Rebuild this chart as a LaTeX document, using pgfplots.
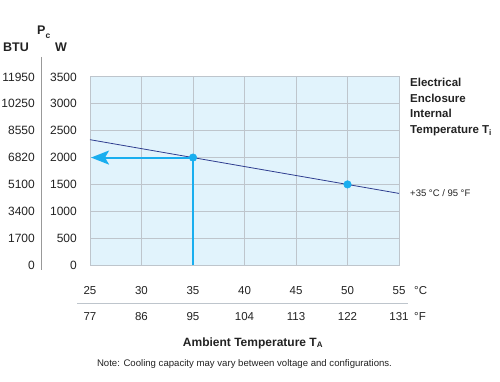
\documentclass[border=0pt]{standalone}
\usepackage{fontspec}
\setmainfont{Liberation Sans}
\usepackage{pgfplots}
\pgfplotsset{compat=1.18}
\usetikzlibrary{arrows.meta}
\definecolor{bgblue}{HTML}{E1F3FC}
\definecolor{gridc}{HTML}{BEC5CC}
\definecolor{navy}{HTML}{2E3D8F}
\definecolor{cyanc}{HTML}{19AEEF}
\definecolor{txt}{HTML}{222222}
\newcommand{\yl}[2]{\makebox[35pt][r]{#1}\makebox[42pt][r]{#2}}
\begin{document}
\begin{tikzpicture}[x=1pt,y=-1pt]
\path[use as bounding box] (0,0) rectangle (500,382);
\begin{axis}[
  at={(90pt,-265pt)}, anchor=south west,
  scale only axis, width=309pt, height=188pt,
  xmin=25, xmax=55, ymin=0, ymax=3500,
  xtick={25,30,...,55}, ytick={0,500,...,3500},
  grid=major, major grid style={gridc, line width=1pt},
  axis line style={gridc, line width=1pt},
  major tick length=0pt,
  axis background/.style={fill=bgblue},
  yticklabel style={anchor=east, inner sep=0pt, xshift=-13pt, font=\fontsize{12}{14}\selectfont, text=txt},
  yticklabels={\yl{0}{0},\yl{1700}{500},\yl{3400}{1000},\yl{5100}{1500},\yl{6820}{2000},\yl{8550}{2500},\yl{10250}{3000},\yl{11950}{3500}},
  xticklabel style={anchor=north, align=center, inner sep=0pt, yshift=-21pt, font=\fontsize{11.5}{26}\selectfont, text=txt},
  xticklabels={{25\\77},{30\\86},{35\\95},{40\\104},{45\\113},{50\\122},{55\\131}},
  clip=false,
]
\addplot[navy, line width=0.8pt] coordinates {(25,2333) (55,1333)};
\addplot[cyanc, line width=2pt, -{Stealth[length=18pt,width=14pt,inset=4pt]}] coordinates {(35,0) (35,2000) (25.1,2000)};
\addplot[only marks, mark=*, mark size=3.8pt, cyanc] coordinates {(35,2000) (50,1500)};
\end{axis}
\draw[gray!80, line width=1pt] (41,57) -- (41,270);
\draw[gridc, line width=1pt] (77,303) -- (408,303);
\node[anchor=base west, inner sep=0pt, font=\bfseries\fontsize{12.5}{14}\selectfont, text=txt] at (3,52) {BTU};
\node[anchor=base west, inner sep=0pt, font=\bfseries\fontsize{12.5}{14}\selectfont, text=txt] at (37,35) {P};
\node[anchor=base west, inner sep=0pt, font=\bfseries\fontsize{8.5}{10}\selectfont, text=txt] at (45.5,39) {c};
\node[anchor=base west, inner sep=0pt, font=\bfseries\fontsize{12.5}{14}\selectfont, text=txt] at (55,52) {W};
\node[anchor=base west, inner sep=0pt, font=\fontsize{11.5}{14}\selectfont, text=txt] at (414,294) {°C};
\node[anchor=base west, inner sep=0pt, font=\fontsize{11.5}{14}\selectfont, text=txt] at (414,320) {°F};
\node[anchor=base west, inner sep=0pt, align=left, font=\bfseries\fontsize{11.5}{15.5}\selectfont, text=txt] at (410,133.5) {Electrical\\Enclosure\\Internal\\Temperature T\textsubscript{i}};
\node[anchor=base west, inner sep=0pt, font=\fontsize{9.5}{12}\selectfont, text=txt] at (410,196) {+35 °C / 95 °F};
\node[anchor=base, inner sep=0pt, font=\bfseries\fontsize{12}{14}\selectfont, text=txt] at (253,346) {Ambient Temperature T\textsubscript{A}};
\node[anchor=base, inner sep=0pt, font=\fontsize{9.6}{11}\selectfont, text=txt] at (244.5,366) {Note: Cooling capacity may vary between voltage and configurations.};
\end{tikzpicture}
\end{document}
